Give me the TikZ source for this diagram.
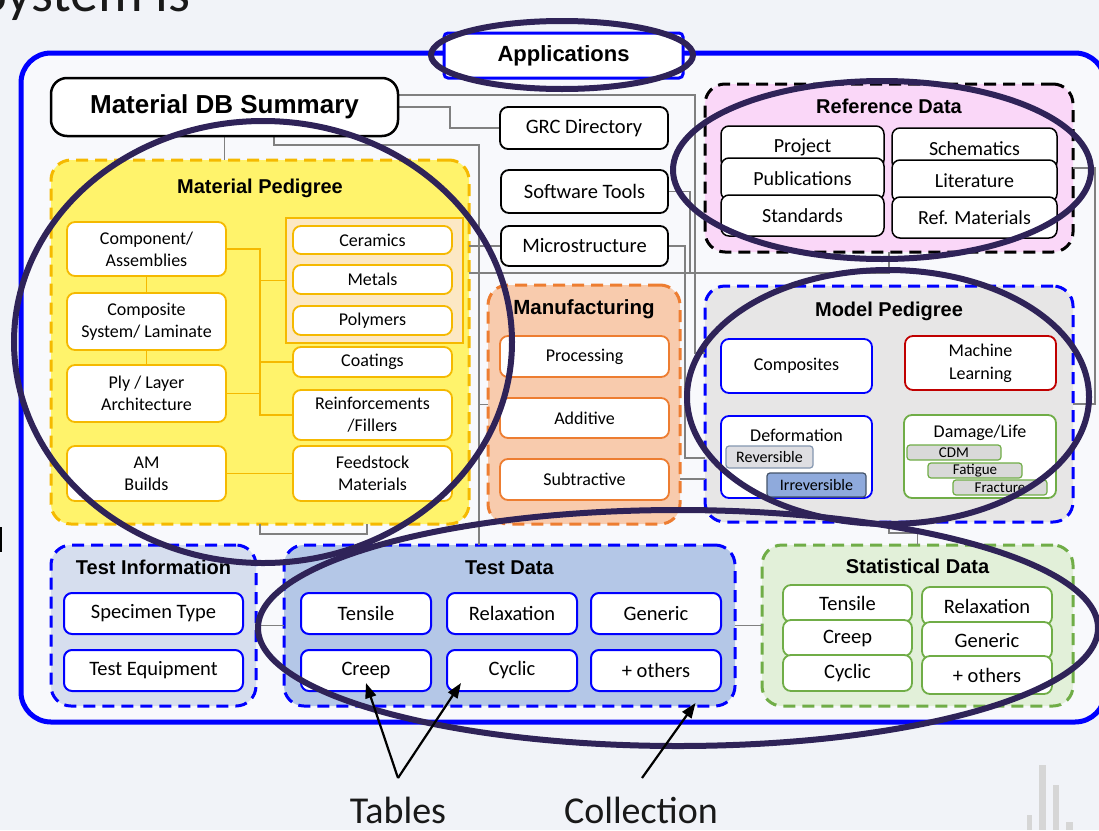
\documentclass[tikz,border=0pt]{standalone}
\usepackage{fontspec}
\setmainfont{Carlito}
\newfontfamily\hfont{Liberation Sans}
\usetikzlibrary{arrows.meta}

\pgfdeclarelayer{bg}
\pgfdeclarelayer{groups}
\pgfdeclarelayer{wires}
\pgfdeclarelayer{fg}
\pgfsetlayers{bg,groups,wires,main,fg}

\newcommand\fs[2]{\fontsize{#1}{#2}\selectfont}

\definecolor{frameblue}{RGB}{0,0,255}
\definecolor{ring}{RGB}{47,35,88}
\definecolor{pageb}{RGB}{241,243,248}
\definecolor{innerb}{RGB}{248,249,252}
\definecolor{yel}{RGB}{255,243,107}
\definecolor{yelline}{RGB}{245,185,0}
\definecolor{peach}{RGB}{252,232,196}
\definecolor{mfill}{RGB}{248,203,173}
\definecolor{mline}{RGB}{237,125,49}
\definecolor{pinkf}{RGB}{250,215,248}
\definecolor{mgray}{RGB}{231,230,230}
\definecolor{tifill}{RGB}{214,222,238}
\definecolor{tdfill}{RGB}{180,199,231}
\definecolor{sfill}{RGB}{226,240,217}
\definecolor{sline}{RGB}{112,173,71}
\definecolor{mlred}{RGB}{192,0,0}
\definecolor{irrfill}{RGB}{143,170,220}
\definecolor{irrline}{RGB}{68,84,106}
\definecolor{revfill}{RGB}{222,222,226}
\definecolor{revline}{RGB}{132,151,176}
\definecolor{wirec}{RGB}{128,128,128}
\definecolor{tagfill}{RGB}{217,217,217}
\definecolor{logog}{RGB}{214,214,214}

\tikzset{
  sz/.style 2 args={minimum width=#1pt, minimum height=#2pt},
  box/.style={draw, fill=white, rounded corners=8pt, line width=1.8pt,
    inner sep=0pt, outer sep=0pt, align=center, font=\fs{18}{22}},
  blackbox/.style={box, draw=black, font=\fs{20.5}{24}},
  refbox/.style={box, draw=black, line width=1.5pt, font=\fs{20}{24}},
  yelbox/.style={box, draw=yelline},
  orgbox/.style={box, draw=mline},
  bluebox/.style={box, draw=frameblue, line width=2pt, font=\fs{20.5}{24}},
  greenbox/.style={box, draw=sline, font=\fs{20.5}{24}},
  tag/.style={box, rounded corners=3pt, line width=1.2pt, font=\fs{15}{17}},
  group/.style={rounded corners=20pt, line width=3pt,
    dash pattern=on 12pt off 7pt, inner sep=0pt, outer sep=0pt},
  ttl/.style={inner sep=0pt, font=\hfont\bfseries\fs{20}{24}},
  wire/.style={draw=wirec, line width=1.1pt},
  yl/.style={draw=yelline, line width=1.8pt},
  ringst/.style={draw=ring, line width=6pt},
  arr/.style={black, line width=2.2pt, -{Triangle[length=15pt,width=11pt]}},
  big/.style={inner sep=0pt, font=\fs{38}{44}, text=black!90}
}

\begin{document}
\begin{tikzpicture}[x=1pt,y=-1pt]
\useasboundingbox (0,0) rectangle (1099,830);

% page, outer frame and logo
\begin{pgfonlayer}{bg}
  \fill[pageb] (0,0) rectangle (1099,830);
  \fill[black] (0,527) rectangle (2,552);
  \fill[logog] (1039,765) rectangle (1046,830);
  \fill[logog] (1053,785) rectangle (1059,830);
  \fill[logog] (1027,815) rectangle (1032,830);
  \fill[logog] (1066,822) rectangle (1073,830);
  \draw[frameblue, line width=5pt, fill=innerb, rounded corners=30pt]
    (21,53) rectangle (1105,722);
\end{pgfonlayer}

\node[anchor=base west, inner sep=0pt, font=\fs{56}{60}, text=black!90] (sys) at (-19,11) {System is};

% group panels
\begin{pgfonlayer}{groups}
  \node[group, draw=black, fill=pinkf, sz={368}{168}] (refd) at (889,168) {};
  \node[group, draw=yelline, fill=yel, sz={418}{364}] (matped) at (260,342) {};
  \node[draw=yelline, fill=peach, line width=1.5pt, inner sep=0pt, outer sep=0pt, sz={177}{125}] (panel) at (374.5,280.5) {};
  \node[group, draw=mline, fill=mfill, sz={192}{239}] (manuf) at (584,404.5) {};
  \node[group, draw=frameblue, fill=mgray, sz={368}{236}] (modp) at (889,404) {};
  \node[group, draw=frameblue, fill=tifill, sz={205}{161}] (testi) at (153.5,625.5) {};
  \node[group, draw=frameblue, fill=tdfill, sz={451}{161}] (testd) at (509.5,625.5) {};
  \node[group, draw=sline, fill=sfill, sz={311}{161}] (stat) at (917.5,625.5) {};
\end{pgfonlayer}

% top row
\node[box, draw=frameblue, line width=3pt, rounded corners=4pt, sz={239}{45},
  font=\hfont\bfseries\fs{22}{26}] (apps) at (563.5,55.5) {Applications};
\node[box, draw=black, line width=2.5pt, rounded corners=16pt, sz={347}{58},
  font=\hfont\bfseries\fs{26}{30}] (db) at (224.5,107) {Material DB Summary};
\node[blackbox, sz={168}{42}] (grc) at (584,128) {GRC Directory};
\node[blackbox, sz={167}{43}] (soft) at (584.5,191.5) {Software Tools};
\node[blackbox, sz={167}{40}] (micro) at (584.5,246) {Microstructure};

% reference data
\node[ttl] (refdT) at (889,106) {Reference Data};
\node[refbox, sz={163}{42}] (proj) at (802.5,147) {Project};
\node[refbox, sz={163}{42}] (pubs) at (802.5,179) {Publications};
\node[refbox, sz={163}{41}] (stds) at (802.5,215.5) {Standards};
\node[refbox, sz={165}{42}] (schem) at (974.5,149) {Schematics};
\node[refbox, sz={165}{42}] (lit) at (974.5,181) {Literature};
\node[refbox, sz={165}{41}] (refm) at (974.5,217.5) {Ref. Materials};

% material pedigree
\node[ttl] (matpedT) at (260,188) {Material Pedigree};
\node[yelbox, sz={159}{54}] (comp) at (146.5,249) {Component/\\Assemblies};
\node[yelbox, sz={159}{57}] (compos) at (146.5,321.5) {Composite\\System/ Laminate};
\node[yelbox, sz={159}{57}] (ply) at (146.5,393.5) {Ply / Layer\\Architecture};
\node[yelbox, sz={159}{55}] (am) at (146.5,473.5) {AM\\Builds};
\node[yelbox, sz={159}{28}] (cer) at (372.5,240) {Ceramics};
\node[yelbox, sz={159}{29}] (met) at (372.5,279.5) {Metals};
\node[yelbox, sz={159}{29}] (poly) at (372.5,320.5) {Polymers};
\node[yelbox, sz={159}{30}] (coat) at (372.5,362) {Coatings};
\node[yelbox, sz={159}{50}] (reinf) at (372.5,415) {Reinforcements\\/Fillers};
\node[yelbox, sz={159}{55}] (feed) at (372.5,473.5) {Feedstock\\Materials};

% manufacturing
\node[ttl, font=\hfont\bfseries\fs{20.5}{24}] (manufT) at (584,309) {Manufacturing};
\node[orgbox, sz={169}{41}] (proc) at (584.5,356.5) {Processing};
\node[orgbox, sz={169}{40}] (addv) at (584.5,418) {Additive};
\node[orgbox, sz={169}{41}] (subt) at (584.5,479.5) {Subtractive};

% model pedigree
\node[ttl] (modpT) at (889,311) {Model Pedigree};
\node[box, draw=frameblue, sz={151}{54}] (cmpst) at (796.5,366) {Composites};
\node[box, draw=mlred, sz={151}{54}, font=\fs{18}{23}] (ml) at (980.5,363) {Machine\\Learning};
\node[box, draw=frameblue, sz={151}{82}] (deform) at (796.5,457) {};
\node[inner sep=0pt, font=\fs{18}{22}] (deformT) at (796.5,435) {Deformation};
\node[tag, draw=revline, fill=revfill, sz={87}{22}, font=\fs{16}{18}] (rev) at (769.5,457) {Reversible};
\node[tag, draw=irrline, fill=irrfill, sz={99}{24}, font=\fs{16}{18}] (irr) at (816.5,485) {Irreversible};
\node[box, draw=sline, sz={152}{83}] (dmg) at (980,456.5) {};
\node[inner sep=0pt, font=\fs{18}{22}] (dmgT) at (980,433) {Damage/Life};
\node[tag, draw=sline, fill=tagfill, sz={94}{15}] (cdm) at (954,452.5) {CDM};
\node[tag, draw=sline, fill=tagfill, sz={94}{15}] (fat) at (975,470.5) {Fatigue};
\node[tag, draw=sline, fill=tagfill, sz={94}{15}] (frac) at (1000,487.5) {Fracture};

% test information and test data
\node[ttl] (testiT) at (153.5,567) {Test Information};
\node[bluebox, sz={179}{41}] (spec) at (153.5,613.5) {Specimen Type};
\node[bluebox, sz={179}{41}] (equip) at (153.5,670.5) {Test Equipment};
\node[ttl] (testdT) at (509.5,568) {Test Data};
\node[bluebox, sz={130}{41}] (tens) at (366,613.5) {Tensile};
\node[bluebox, sz={130}{41}] (relax) at (512,613.5) {Relaxation};
\node[bluebox, sz={130}{41}] (gen) at (656,613.5) {Generic};
\node[bluebox, sz={130}{41}] (creep) at (366,670.5) {Creep};
\node[bluebox, sz={130}{41}] (cyc) at (512,670.5) {Cyclic};
\node[bluebox, sz={130}{41}] (oth) at (656,670.5) {+ others};

% statistical data
\node[ttl] (statT) at (917.5,566) {Statistical Data};
\node[greenbox, sz={129}{37}] (stens) at (847.5,603.5) {Tensile};
\node[greenbox, sz={129}{36}] (screep) at (847.5,638) {Creep};
\node[greenbox, sz={129}{36}] (scyc) at (847.5,673) {Cyclic};
\node[greenbox, sz={130}{38}] (srelax) at (987,606) {Relaxation};
\node[greenbox, sz={130}{37}] (sgen) at (987,640.5) {Generic};
\node[greenbox, sz={130}{38}] (soth) at (987,675) {+ others};

% routing coordinates
\coordinate (xT) at (260,0);
\coordinate (x274) at (274,0);
\coordinate (x367) at (367,0);
\coordinate (x450) at (450,0);
\coordinate (x479) at (479,0);
\coordinate (x685) at (685,0);
\coordinate (x690) at (690,0);
\coordinate (x695) at (695,0);
\coordinate (xR) at (1095,0);
\coordinate (y95) at (0,95);
\coordinate (y145) at (0,145);
\coordinate (y273) at (0,273);
\coordinate (y353) at (0,353);
\coordinate (y458) at (0,458);
\coordinate (y479) at (0,479);
\coordinate (y533) at (0,533);
\coordinate (y534) at (0,534);

\begin{pgfonlayer}{wires}
  % links inside the material pedigree
  \draw[yl] (comp.south) -- (compos.north);
  \draw[yl] (compos.south) -- (ply.north);
  \draw[yl] (comp.east) -| (xT |- reinf.west) -- (reinf.west);
  \draw[yl] (xT |- panel.west) -- (panel.west);
  \draw[yl] (xT |- coat.west) -- (coat.west);
  \draw[yl] (ply.east) -- (xT |- ply.east);
  \draw[yl] (am.east) -- (feed.west);
  % links between the blocks
  \draw[wire] (db.east) -| (x450 |- grc.west) -- (grc.west);
  \draw[wire] (db.east |- y95) -| (x695 |- y353) -- (modp.west |- y353);
  \draw[wire] (db.south) -- (db.south |- matped.north);
  \draw[wire] (x274 |- db.south) |- (x479 |- y145) -- (x479 |- testd.north);
  \draw[wire] (x479 |- manuf.west) -- (manuf.west);
  \draw[wire] (matped.east |- micro.west) -- (micro.west);
  \draw[wire] (matped.east |- y273) -| (refd.south);
  \draw[wire] (soft.east) -| (x690 |- y273);
  \draw[wire] (micro.east) -| (x685 |- y458) -- (modp.west |- y458);
  \draw[wire] (manuf.east |- y479) -- (modp.west |- y479);
  \draw[wire] (refd.east) -| (xR |- modp.east) -- (modp.east);
  \draw[wire] (modp.south) |- (stat.north |- y533) -- (stat.north);
  \draw[wire] (matped.south) -- (matped.south |- y534) -| (x367 |- matped.south);
  \draw[wire] (testi.east) -- (testd.west);
  \draw[wire] (testd.east) -- (stat.west);
\end{pgfonlayer}

% highlight rings and callouts
\begin{pgfonlayer}{fg}
  \draw[ringst] (562,55) ellipse [x radius=131pt, y radius=34pt];
  \draw[ringst] (882,170) ellipse [x radius=209pt, y radius=89pt];
  \draw[ringst] (263,342) ellipse [x radius=249pt, y radius=221pt];
  \draw[ringst] (888,397) ellipse [x radius=201pt, y radius=127pt];
  \draw[ringst] (678,628) ellipse [x radius=420pt, y radius=118pt];

  \node[big, anchor=base] (tables) at (398,823) {Tables};
  \node[big, anchor=base] (coll) at (641,823) {Collection};
  \coordinate (tv) at (398,778);
  \coordinate (cv) at (642,778);
  \draw[arr] (tv) -- ([yshift=8pt]creep.south);
  \draw[arr] (tv) -- ([xshift=-51pt,yshift=8pt]cyc.south);
  \draw[arr] (cv) -- ([xshift=186pt,yshift=3pt]testd.south);
\end{pgfonlayer}
\end{tikzpicture}
\end{document}
